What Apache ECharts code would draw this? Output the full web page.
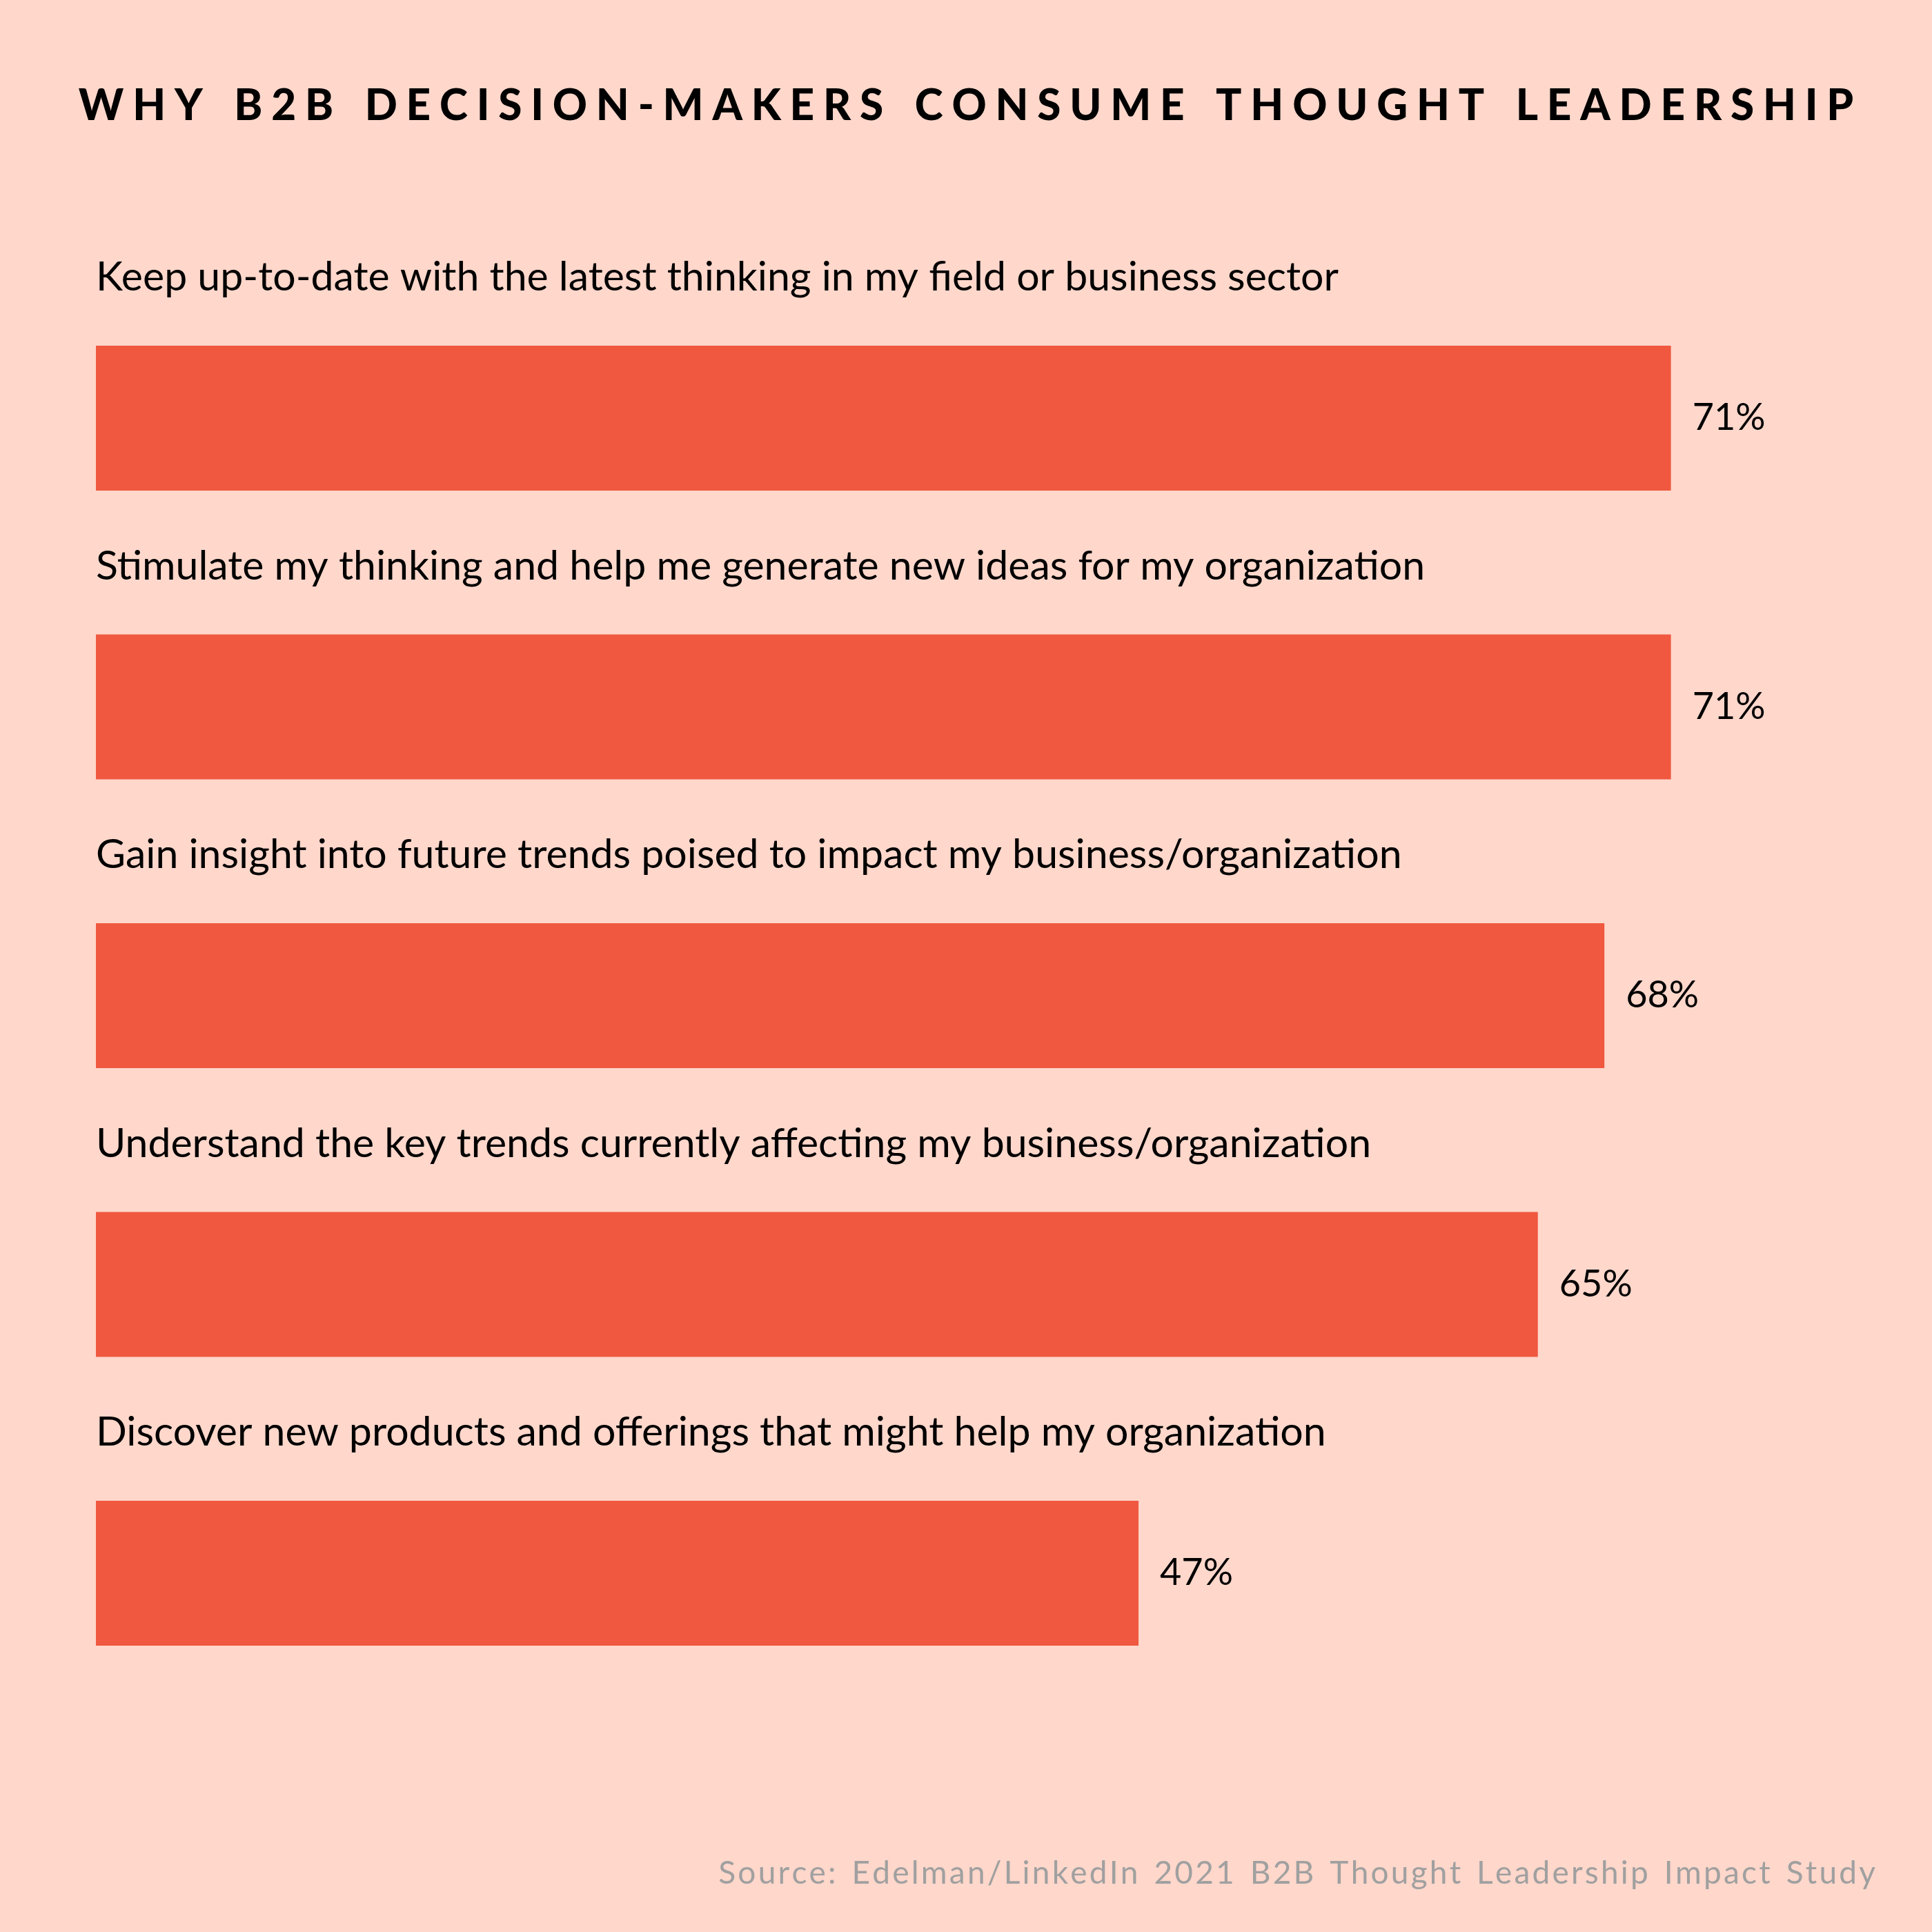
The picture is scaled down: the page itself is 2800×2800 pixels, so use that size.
<!DOCTYPE html>
<html>
<head>
<meta charset="utf-8">
<style>
  html, body { margin: 0; padding: 0; background: #FFD7CB; }
  #chart { width: 2800px; height: 2800px; }
</style>
<script src="https://cdn.jsdelivr.net/npm/echarts@6/dist/echarts.min.js"></script>
</head>
<body>
<div id="chart"></div>
<script>
const TITLE = 'WHY B2B DECISION-MAKERS CONSUME THOUGHT LEADERSHIP';
const SOURCE = 'Source: Edelman/LinkedIn 2021 B2B Thought Leadership Impact Study';
const categories = [
  'Keep up-to-date with the latest thinking in my field or business sector',
  'Stimulate my thinking and help me generate new ideas for my organization',
  'Gain insight into future trends poised to impact my business/organization',
  'Understand the key trends currently affecting my business/organization',
  'Discover new products and offerings that might help my organization'
];
const values = [71, 71, 68, 65, 47];

const BG = '#FFD7CB';
const BAR = '#F0583F';

// letter-spaced text via rich text fragments (characters themselves unchanged)
function spaced(str) {
  return str.split('').map(ch => ch === ' ' ? '{w| }' : '{c|' + ch + '}').join('');
}

const chart = echarts.init(document.getElementById('chart'), null, { renderer: 'canvas' });
chart.setOption({
  backgroundColor: BG,
  animation: false,
  title: {
    text: spaced(TITLE),
    left: 'center',
    top: 118,
    textStyle: {
      fontFamily: 'Lato',
      fontWeight: 900,
      fontSize: 62,
      color: '#000',
      rich: {
        c: { fontFamily: 'Lato', fontWeight: 900, fontSize: 62, color: '#000', padding: [0, 6.4, 0, 6.4] },
        w: { fontFamily: 'Lato', fontWeight: 900, fontSize: 62, color: '#000', padding: [0, 9, 0, 9] }
      }
    }
  },
  graphic: [{
    type: 'text',
    right: 82,
    top: 2692,
    style: {
      text: spaced(SOURCE),
      fontFamily: 'Lato',
      fontSize: 46,
      fill: '#A0A0A0',
      rich: {
        c: { fontFamily: 'Lato', fontSize: 46, fill: '#A0A0A0', padding: [0, 1.6, 0, 1.6] },
        w: { fontFamily: 'Lato', fontSize: 46, fill: '#A0A0A0', padding: [0, 4, 0, 4] }
      }
    }
  }],
  grid: { left: 139, right: 89, top: 396.75, height: 2092.5, containLabel: false },
  xAxis: {
    type: 'value', min: 0, max: 80,
    show: false
  },
  yAxis: {
    type: 'category', data: categories, inverse: true,
    axisLine: { show: false }, axisTick: { show: false }, axisLabel: { show: false }, splitLine: { show: false }
  },
  series: [
    {
      type: 'bar',
      data: values,
      barWidth: 210,
      itemStyle: { color: BAR },
      label: {
        show: true,
        position: 'right',
        distance: 31,
        formatter: '{c}%',
        fontFamily: 'Lato',
        fontSize: 54,
        color: '#000'
      },
      silent: true
    },
    {
      type: 'bar',
      data: values,
      barWidth: 210,
      barGap: '-100%',
      itemStyle: { color: 'rgba(0,0,0,0)' },
      label: {
        show: true,
        position: [0, -99],
        align: 'left',
        verticalAlign: 'middle',
        formatter: '{b}',
        fontFamily: 'Lato',
        fontSize: 59,
        color: '#000'
      },
      silent: true
    }
  ]
});
</script>
</body>
</html>
